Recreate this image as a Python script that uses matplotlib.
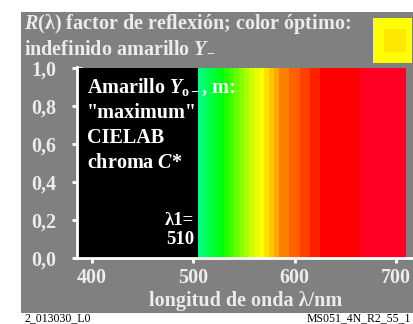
import matplotlib
matplotlib.use('Agg')
import matplotlib.pyplot as plt
from matplotlib.patches import Rectangle
from matplotlib.colors import LinearSegmentedColormap
import numpy as np

plt.rcParams['font.family'] = ['Liberation Serif', 'DejaVu Serif']
plt.rcParams['font.weight'] = 'bold'
plt.rcParams['mathtext.fontset'] = 'custom'
plt.rcParams['mathtext.rm'] = 'Liberation Serif:bold'
plt.rcParams['mathtext.it'] = 'Liberation Serif:bold:italic'
plt.rcParams['mathtext.bf'] = 'Liberation Serif:bold'

# Bandas espectrales: borde izquierdo, ancho (nm), reflexión y color
band_start = [385, 530, 535, 540, 545, 550, 555, 560, 565, 570, 575, 580,
              585, 595, 605, 615, 625, 665]
band_width = [120, 5, 5, 5, 5, 5, 5, 5, 5, 5, 5, 5,
              10, 10, 10, 10, 40, 45]
band_refl = [1.0] * len(band_start)
band_color = ['#000000', '#22ff00', '#44ff00', '#66ff00', '#88ff00', '#aaff00',
              '#ccff00', '#e6ff00', '#ffff00', '#ffe000', '#ffc400', '#ffa800',
              '#ff8000', '#ff6000', '#ff4000', '#ff2000', '#ff0000', '#ff0022']

# Tramo con degradado verde-cian (505-530 nm)
grad_range = (505, 530)
grad_colors = ['#00ff88', '#00ff00']

x_ticks = [400, 500, 600, 700]
y_ticks = [0.0, 0.2, 0.4, 0.6, 0.8, 1.0]
y_tick_labels = ['0,0', '0,2', '0,4', '0,6', '0,8', '1,0']
lambda1 = 510

GREY = '#808080'
LIGHT = '#ececec'
FS = 14.5

fig = plt.figure(figsize=(4.14, 3.24), dpi=100)
fig.patch.set_facecolor('white')

# panel gris de fondo
bg = fig.add_axes([21 / 414, 1 - 312.5 / 324, 393 / 414, 300.5 / 324])
bg.set_facecolor(GREY)
bg.set_xticks([])
bg.set_yticks([])
for sp in bg.spines.values():
    sp.set_visible(False)
bg.set_zorder(0)

ax = fig.add_axes([76.7 / 414, 65.7 / 324, 349.5 / 414, 191.5 / 324])
ax.set_zorder(2)
ax.patch.set_alpha(0)

ax.bar(band_start, band_refl, width=band_width, align='edge',
       color=band_color, edgecolor='none', zorder=2)

cmap = LinearSegmentedColormap.from_list('verde', grad_colors)
ax.imshow(np.linspace(0, 1, 64).reshape(1, -1), cmap=cmap, aspect='auto',
          extent=(grad_range[0], grad_range[1], 0, 1.0), zorder=2)
ax.set_xlim(385, 730)
ax.set_ylim(0, 1.008)

for side in ['top', 'right']:
    ax.spines[side].set_visible(False)
for side in ['left', 'bottom']:
    ax.spines[side].set_color('white')
    ax.spines[side].set_linewidth(2)
    ax.spines[side].set_zorder(5)

ax.set_xticks(x_ticks)
ax.set_yticks(y_ticks)
ax.set_yticklabels(y_tick_labels)
ax.tick_params(direction='inout', length=7.5, width=2, color='white',
               labelcolor=LIGHT, labelsize=FS)
ax.tick_params(axis='y', pad=11)
ax.tick_params(axis='x', pad=3)
for lab in ax.get_xticklabels() + ax.get_yticklabels():
    lab.set_fontweight('bold')

fig.text(246 / 414, 1 - 306 / 324, 'longitud de onda λ/nm', ha='center',
         va='baseline', color=LIGHT, fontsize=FS, zorder=6)

# título
fig.text(24 / 414, 1 - 29 / 324, '$R$(λ) factor de reflexión; color óptimo:',
         ha='left', va='baseline', color=LIGHT, fontsize=FS, zorder=6)
fig.text(24 / 414, 1 - 52 / 324, 'indefinido amarillo $Y_{-}$',
         ha='left', va='baseline', color=LIGHT, fontsize=FS, zorder=6)

# muestra de color
fig.patches.append(Rectangle((373 / 414, 1 - 62.5 / 324), 39 / 414, 44.5 / 324,
                             transform=fig.transFigure, facecolor='#ffff00',
                             edgecolor='none', zorder=3))
fig.patches.append(Rectangle((384 / 414, 1 - 52 / 324), 22 / 414, 23 / 324,
                             transform=fig.transFigure, facecolor='#ffe800',
                             edgecolor='none', zorder=3))

# leyenda dentro de la zona negra
box_lines = ['Amarillo $Y_{\\mathrm{o}-}$, m:', '"maximum"', 'CIELAB', 'chroma $C$*']
for i, s in enumerate(box_lines):
    fig.text(87 / 414, 1 - (93 + 25 * i) / 324, s, ha='left', va='baseline',
             color='white', fontsize=FS, zorder=6)
fig.text(194 / 414, 1 - 225 / 324, 'λ1=', ha='right', va='baseline',
         color='white', fontsize=13.5, zorder=6)
fig.text(194 / 414, 1 - 244 / 324, str(lambda1), ha='right', va='baseline',
         color='white', fontsize=13.5, zorder=6)

# rótulos al pie
fig.text(25 / 414, 1 - 321 / 324, '2_013030_L0', ha='left', va='baseline',
         color='black', fontsize=8.5, fontweight='normal')
fig.text(411 / 414, 1 - 321 / 324, 'MS051_4N_R2_55_1', ha='right', va='baseline',
         color='black', fontsize=8.5, fontweight='normal')

fig.savefig('out.png', dpi=100)
